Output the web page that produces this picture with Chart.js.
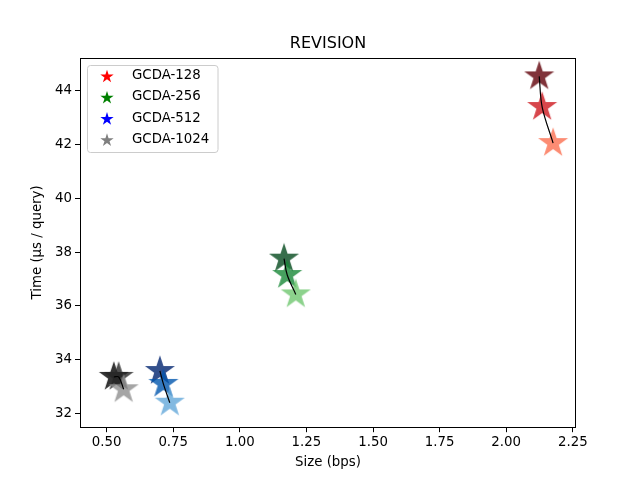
<!DOCTYPE html>
<html><head><meta charset="utf-8">
<script src="https://cdn.jsdelivr.net/npm/chart.js@4"></script>
<style>html,body{margin:0;padding:0;background:#fff}</style>
</head><body>
<canvas id="c" width="640" height="480" style="width:640px;height:480px;display:block"></canvas>
<script>
// ---- data ----
const groupNames = ['GCDA-128', 'GCDA-256', 'GCDA-512', 'GCDA-1024'];
const legendColors = ['red', 'green', 'blue', 'gray'];

const x128 = [2.124, 2.135, 2.176];
const y128 = [44.54, 43.40, 42.06];
const x256 = [1.166, 1.178, 1.210];
const y256 = [37.76, 37.15, 36.43];
const x512 = [0.700, 0.713, 0.737];
const y512 = [33.58, 33.10, 32.40];
const x1024 = [0.527, 0.545, 0.564];
const y1024 = [33.36, 33.36, 32.90];

const colors128 = ['rgba(96,0,9,0.8)', 'rgba(205,24,30,0.8)', 'rgba(251,111,80,0.8)'];
const colors256 = ['rgba(5,74,30,0.8)', 'rgba(24,136,55,0.8)', 'rgba(111,199,111,0.8)'];
const colors512 = ['rgba(0,36,111,0.8)', 'rgba(0,86,174,0.8)', 'rgba(99,168,218,0.8)'];
const colors1024 = ['rgba(0,0,0,0.8)', 'rgba(37,37,37,0.8)', 'rgba(143,143,143,0.8)'];

const xTicks = [0.50, 0.75, 1.00, 1.25, 1.50, 1.75, 2.00, 2.25];
const yTicks = [32, 34, 36, 38, 40, 42, 44];

const titleText = 'REVISION';
const xLabel = 'Size (bps)';
const yLabel = 'Time (µs / query)';

// ---- helpers ----
const FONT = '"DejaVu Sans", sans-serif';
function starPath(ctx, cx, cy, R) {
  const r = R * 0.381966;
  ctx.beginPath();
  for (let i = 0; i < 10; i++) {
    const rad = (i % 2 === 0) ? R : r;
    const a = -Math.PI / 2 + i * Math.PI / 5;
    const px = cx + rad * Math.cos(a), py = cy + rad * Math.sin(a);
    if (i === 0) ctx.moveTo(px, py); else ctx.lineTo(px, py);
  }
  ctx.closePath();
}
function starImage(color, R) {
  const size = Math.ceil(R * 2 + 4);
  const cv = document.createElement('canvas');
  cv.width = size; cv.height = size;
  const ctx = cv.getContext('2d');
  starPath(ctx, size / 2, size / 2, R);
  ctx.fillStyle = color;
  ctx.fill();
  return cv;
}
const STAR_R = 15.8;
function pts(xs, ys) { return xs.map((x, i) => ({ x: x, y: ys[i] })); }

const groups = [
  { xs: x128, ys: y128, cols: colors128 },
  { xs: x256, ys: y256, cols: colors256 },
  { xs: x512, ys: y512, cols: colors512 },
  { xs: x1024, ys: y1024, cols: colors1024 }
];

const datasets = [];
groups.forEach((g, gi) => {
  datasets.push({
    label: groupNames[gi] + ' fit',
    data: pts(g.xs, g.ys),
    showLine: true,
    borderColor: '#000',
    borderWidth: 1.2,
    tension: 0.35,
    pointRadius: 0,
    fill: false,
    order: 0
  });
  datasets.push({
    label: groupNames[gi],
    data: pts(g.xs, g.ys),
    showLine: false,
    pointStyle: g.cols.map(c => starImage(c, STAR_R)),
    pointRadius: STAR_R,
    order: 1
  });
});

const decor = {
  id: 'decor',
  afterDraw(chart) {
    const ctx = chart.ctx, a = chart.chartArea;
    ctx.save();
    // frame
    ctx.strokeStyle = '#000';
    ctx.lineWidth = 1;
    ctx.strokeRect(Math.round(a.left) + 0.5, Math.round(a.top) + 0.5,
                   Math.round(a.right - a.left) - 1, Math.round(a.bottom - a.top) - 1);
    // title
    ctx.fillStyle = '#000';
    ctx.textAlign = 'center';
    ctx.textBaseline = 'middle';
    ctx.font = '16px ' + FONT;
    ctx.fillText(titleText, (a.left + a.right) / 2, 44);
    // axis labels
    ctx.font = '13.33px ' + FONT;
    ctx.fillText(xLabel, (a.left + a.right) / 2, 463);
    ctx.save();
    ctx.translate(38, (a.top + a.bottom) / 2);
    ctx.rotate(-Math.PI / 2);
    ctx.fillText(yLabel, 0, 0);
    ctx.restore();
    // legend
    const lx = 87.5, ly = 65.5, lw = 130.5, lh = 87;
    ctx.beginPath();
    if (ctx.roundRect) ctx.roundRect(lx, ly, lw, lh, 3); else ctx.rect(lx, ly, lw, lh);
    ctx.fillStyle = 'rgba(255,255,255,0.8)';
    ctx.fill();
    ctx.strokeStyle = '#cccccc';
    ctx.stroke();
    const rows = [75.7, 96.9, 118.1, 139.3];
    groupNames.forEach((n, i) => {
      starPath(ctx, 107, rows[i] + 1, 7);
      ctx.fillStyle = legendColors[i];
      ctx.fill();
      ctx.fillStyle = '#000';
      ctx.textAlign = 'left';
      ctx.textBaseline = 'middle';
      ctx.font = '13.33px ' + FONT;
      ctx.fillText(n, 132, rows[i]);
    });
    ctx.restore();
  }
};

const tickFont = { family: FONT, size: 13.33 };
new Chart(document.getElementById('c'), {
  type: 'scatter',
  data: { datasets: datasets },
  options: {
    responsive: false,
    animation: false,
    devicePixelRatio: 1,
    layout: { padding: { top: 57.6, right: 64, left: 0, bottom: 0 } },
    plugins: { legend: { display: false }, tooltip: { enabled: false }, title: { display: false } },
    scales: {
      x: {
        type: 'linear', min: 0.40, max: 2.262,
        afterBuildTicks: s => { s.ticks = xTicks.map(v => ({ value: v })); },
        afterFit: s => { s.height = 52.8; },
        ticks: { callback: v => Number(v).toFixed(2), font: tickFont, color: '#000', padding: 2, maxRotation: 0, autoSkip: false },
        grid: { drawOnChartArea: false, drawTicks: true, tickLength: 5, color: '#000', lineWidth: 1 },
        border: { display: false }
      },
      y: {
        type: 'linear', min: 31.49, max: 45.24,
        afterBuildTicks: s => { s.ticks = yTicks.map(v => ({ value: v })); },
        afterFit: s => { s.width = 80; },
        ticks: { callback: v => String(v), font: tickFont, color: '#000', padding: 3, autoSkip: false },
        grid: { drawOnChartArea: false, drawTicks: true, tickLength: 5, color: '#000', lineWidth: 1 },
        border: { display: false }
      }
    }
  },
  plugins: [decor]
});
</script>
</body></html>
